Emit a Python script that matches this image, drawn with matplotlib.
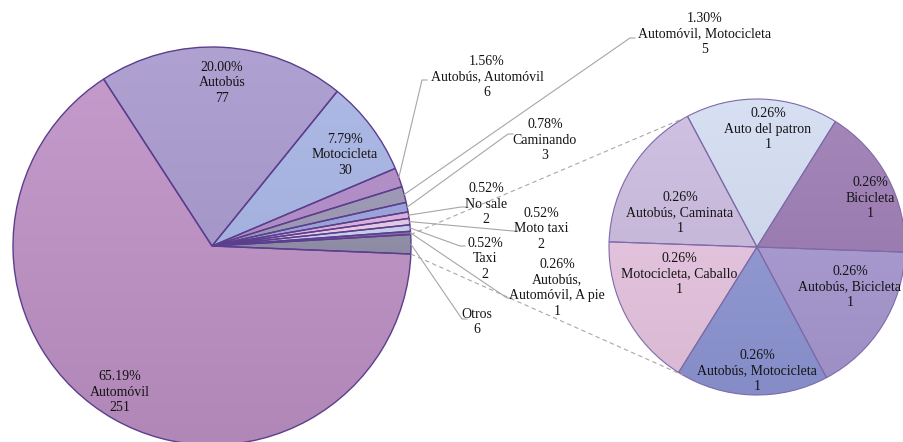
import numpy as np
import matplotlib
matplotlib.use("Agg")
import matplotlib.pyplot as plt
import matplotlib.colors as mcolors

# medio de transporte - pie principal
main_labels = ["Autobús", "Motocicleta", "Autobús, Automóvil", "Automóvil, Motocicleta",
               "Caminando", "No sale", "Moto taxi", "Taxi", "Autobús,\nAutomóvil, A pie",
               "Otros", "Automóvil"]
main_counts = [77, 30, 6, 5, 3, 2, 2, 2, 1, 6, 251]
main_colors = ["#a697cc", "#a6b3e4", "#b18ac7", "#9b97b5", "#99a2dc", "#ddb1dd",
               "#eccbe7", "#c8d1f2", "#8e62a8", "#8e8ca6", "#be91c5"]

# desglose de "Otros"
sub_labels = ["Bicicleta", "Auto del patron", "Autobús, Caminata",
              "Motocicleta, Caballo", "Autobús, Motocicleta", "Autobús, Bicicleta"]
sub_counts = [1, 1, 1, 1, 1, 1]
sub_colors = ["#9c7ab3", "#d3dcf2", "#cbbbe0", "#e9c6e2", "#8f97d6", "#a899d2"]

total = sum(main_counts)

W, H = 904, 442
fig = plt.figure(figsize=(W / 100, H / 100), dpi=100)
ax = fig.add_axes([0, 0, 1, 1])

def Y(p):
    # pixel row -> data y
    return H - p

# geometry
mcx, mcy, mr = 212, Y(246), 199
scx, scy, sr = 757, Y(247), 148
main_start = 123
sub_start = -2

FONT = "Liberation Serif"
TXT = "#141414"
LEAD = "#a6a6a6"
LS = 1.28

def shade(wedges, cx, cy, r):
    # soft vertical gradient inside every slice
    for w in wedges:
        c = np.array(mcolors.to_rgb(w.get_facecolor()))
        t = np.linspace(0, 1, 256)[:, None]
        top = c + (1 - c) * 0.10
        bot = c * 0.93
        img = (top[None, :] * (1 - t) + bot[None, :] * t)[:, None, :]
        im = ax.imshow(img, extent=(cx - r, cx + r, cy - r, cy + r), origin="upper",
                       aspect="auto", zorder=1, interpolation="bilinear")
        im.set_clip_path(w)
        w.set_facecolor("none")
        w.set_zorder(2)

mw, _ = ax.pie(main_counts, colors=main_colors, startangle=main_start, counterclock=False,
               center=(mcx, mcy), radius=mr, frame=True,
               wedgeprops=dict(edgecolor="#5b3e8e", linewidth=1.0))
shade(mw, mcx, mcy, mr)

sw, _ = ax.pie(sub_counts, colors=sub_colors, startangle=sub_start, counterclock=True,
               center=(scx, scy), radius=sr, frame=True,
               wedgeprops=dict(edgecolor="#7d6aa8", linewidth=0.8))
shade(sw, scx, scy, sr)

def lab(i, counts, labels):
    pct = counts[i] / total * 100
    return f"{pct:.2f}%\n{labels[i]}\n{counts[i]}"

# labels inside the big slices (index, x, y of middle line)
inside = [(0, 222, 83), (1, 345, 155), (10, 120, 392)]
for i, x, y in inside:
    ax.text(x, Y(y), lab(i, main_counts, main_labels), ha="center", va="center",
            fontsize=10, family=FONT, color=TXT, linespacing=LS, zorder=5)

# outside labels with leader lines: index, text center (x, y), elbow (x, y)
outside = [
    (2, 487, 77, 422, 80),
    (3, 705, 34, 630, 38),
    (4, 545, 140, 508, 134),
    (5, 486, 204, 461, 207),
    (6, 541, 229, 513, 231),
    (7, 485, 259, 460, 246),
    (8, 557, 288, 507, 298),
    (9, 477, 322, 462, 319),
]
# middle angle of each slice
ends = main_start - np.cumsum(main_counts) / total * 360
starts = ends + np.array(main_counts) / total * 360
mids = (starts + ends) / 2
for i, tx, ty, ex, ey in outside:
    a = np.deg2rad(mids[i])
    px, py = mcx + mr * np.cos(a), mcy + mr * np.sin(a)
    ax.plot([px, ex, ex + 5], [py, Y(ey), Y(ey)], color=LEAD, lw=0.8, zorder=3)
    if main_labels[i] == "Otros":
        s = f"{main_labels[i]}\n{main_counts[i]}"
    else:
        s = lab(i, main_counts, main_labels)
    ax.text(tx, Y(ty), s, ha="center", va="center", fontsize=10, family=FONT,
            color=TXT, linespacing=LS, zorder=5)

# secondary pie labels
sub_pos = [(870, 198), (768, 129), (680, 213), (679, 274), (757, 371), (850, 287)]
for i, (x, y) in enumerate(sub_pos):
    ax.text(x, Y(y), lab(i, sub_counts, sub_labels), ha="center", va="center",
            fontsize=10, family=FONT, color=TXT, linespacing=LS, zorder=5)

# dashed connectors from "Otros" to the secondary pie
oi = main_labels.index("Otros")
for a_main, a_sub in [(starts[oi], 119), (ends[oi], 240)]:
    a1, a2 = np.deg2rad(a_main), np.deg2rad(a_sub)
    ax.plot([mcx + mr * np.cos(a1), scx + sr * np.cos(a2)],
            [mcy + mr * np.sin(a1), scy + sr * np.sin(a2)],
            color="#b0a4a4", lw=0.8, ls=(0, (4, 3)), zorder=3)

ax.set_xlim(0, W)
ax.set_ylim(0, H)
ax.set_aspect("auto")
ax.axis("off")

plt.savefig("out.png", dpi=100)
